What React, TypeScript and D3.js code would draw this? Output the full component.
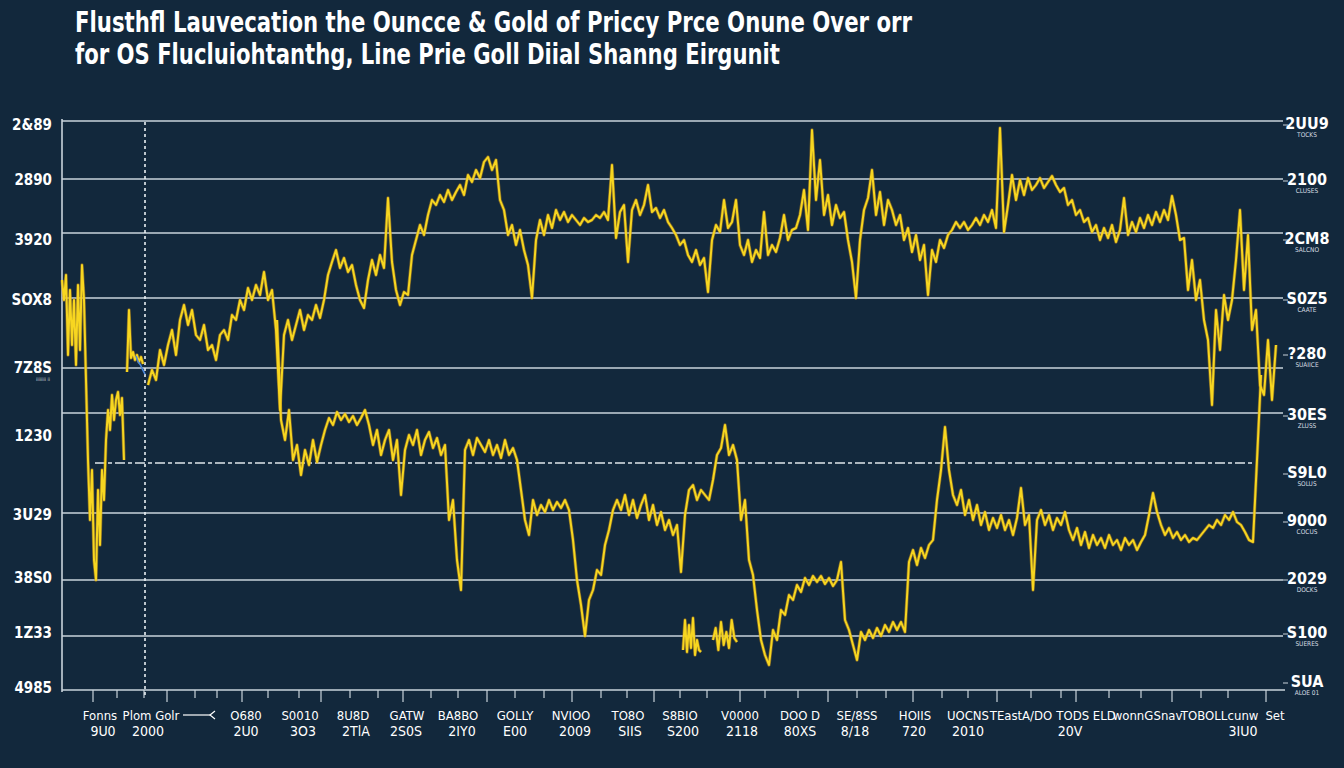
import React from 'react';
import * as d3 from 'd3';

const W = 1344;
const H = 768;

const titleLines = [
  'Flusthfl Lauvecation the  Ouncce & Gold of Priccy Prce Onune Over orr',
  'for OS Flucluiohtanthg, Line Prie Goll Diial Shanng Eirgunit',
];

const leftTickLabels = ['2&89', '2890', '3920', 'SOX8', '7Z8S', '1230', '3U29', '38S0', '1Z33', '4985'];
const leftTickValues = [2130, 2020, 1900, 1780, 1644, 1508, 1350, 1224, 1114, 1004];

const rightTickLabels = ['2UU9', '2100', '2CM8', 'S0Z5', '?280', '30ES', 'S9L0', '9000', '2029', 'S100', 'SUA'];
const rightTickSubLabels = ['TOCKS', 'CLUSES', 'SALCNO', 'CAATE', 'SUAIICE', 'ZLUSS', 'SOLUS', 'COCUS', 'DOCKS', 'SUERES', 'ALOE 01'];
const rightTickValues = [2130, 2018, 1900, 1780, 1670, 1548, 1432, 1336, 1220, 1112, 1014];

const gridValues = [2138, 2022, 1914, 1784, 1644, 1554, 1354, 1220, 1108];
const dashedValue = 1454;
const markerDay = 83;

const bottomTickDays = [31, 55, 82, 105, 133, 155, 180, 206, 237, 259, 288, 316, 341, 369, 396, 425, 453, 482, 510, 539, 565, 592, 618, 645, 678, 703, 736, 766, 795, 824, 851, 880, 906, 935, 969, 999, 1014, 1047, 1079, 1110, 1139, 1166, 1204];

const bottomRow1Labels = ['Fonns', 'Plom Golr', 'O680', 'S0010', '8U8D', 'GATW', 'BA8BO', 'GOLLY', 'NVIOO', 'TO8O', 'S8BIO', 'V0000', 'DOO D', 'SE/8SS', 'HOIIS', 'UOCNS', 'TEastA/DO', 'TODS ELD', 'wonnG', 'Snav', 'TOBOLL', 'cunw', 'Set'];
const bottomRow1Days = [38, 89, 184, 238, 291, 345, 396, 453, 509, 566, 618, 678, 738, 795, 853, 906, 959, 1024, 1071, 1106, 1142, 1181, 1213];
const bottomRow2Labels = ['9U0', '2000', '2U0', '3O3', '2TlA', '2S0S', '2IY0', 'E00', '2009', 'SIIS', 'S200', '2118', '80XS', '8/18', '720', '2010', '20V', '3IU0'];
const bottomRow2Days = [41, 86, 184, 241, 294, 344, 400, 453, 513, 568, 621, 680, 738, 793, 852, 906, 1008, 1181];

// price series (segments of evenly spaced trading days)
const upperLeftPrices = [1820, 1780, 1830, 1670, 1800, 1690, 1780, 1650, 1810, 1680, 1850, 1780, 1620, 1460, 1340, 1440, 1260, 1220, 1400, 1290, 1440, 1380, 1500, 1560, 1520, 1590, 1540, 1580, 1596, 1550, 1584, 1460];
const upperLeftDays = [0, 62];

const shortFlatPrices = [1636, 1760, 1664, 1676, 1660, 1670, 1656, 1666, 1652];
const shortFlatDays = [65, 81];

const blueTickPrices = [1668, 1656, 1650, 1640, 1632];
const blueTickDays = [74, 83];

const upperMainPrices = [
  1610, 1640, 1620, 1680, 1650, 1690, 1720, 1670, 1740, 1770, 1730, 1760, 1710, 1700, 1730, 1680, 1690, 1660, 1710, 1720,
  1700, 1750, 1740, 1780, 1760, 1804, 1780, 1810, 1790, 1836, 1780, 1800, 1720, 1560, 1710, 1740, 1700, 1730, 1760, 1720,
  1750, 1740, 1770, 1744, 1780, 1830, 1856, 1880, 1844, 1864, 1836, 1850, 1810, 1780, 1764, 1820, 1860, 1830, 1870, 1844,
  1984, 1856, 1800, 1770, 1796, 1790, 1870, 1900, 1930, 1910, 1950, 1980, 1970, 1990, 1976, 2000, 1980, 1996, 2010, 1990,
  2030, 2016, 2040, 2024, 2056, 2066, 2040, 2060, 1980, 1960, 1910, 1930, 1890, 1920, 1880, 1850, 1784, 1900, 1940, 1910,
  1950, 1924, 1960, 1940, 1956, 1936, 1950, 1940, 1930, 1944, 1936, 1940, 1950, 1944, 1956, 1940, 2050, 1904, 1956, 1970,
  1856, 1960, 1980, 1950, 1970, 2010, 1956, 1964, 1944, 1960, 1936, 1924, 1910, 1890, 1900, 1870, 1856, 1880, 1850, 1864,
  1796, 1900, 1930, 1916, 1980, 1924, 1936, 1980, 1890, 1870, 1900, 1856, 1880, 1864, 1956, 1870, 1890, 1876, 1904, 1950,
  1900, 1920, 1924, 1950, 2000, 1920, 2120, 1980, 2060, 1950, 1990, 1930, 1970, 1944, 1956, 1900, 1856, 1784, 1900, 1960,
  1984, 2040, 1950, 1996, 1930, 1980, 1960, 1930, 1950, 1900, 1924, 1876, 1910, 1860, 1890, 1790, 1880, 1856, 1900, 1884,
  1910, 1920, 1936, 1924, 1936, 1920, 1930, 1944, 1930, 1950, 1936, 1960, 1924, 2124, 1916, 1970, 2030, 1980, 2020, 1990,
  2024, 2000, 2010, 2024, 2004, 2016, 2028, 2010, 1996, 2004, 1970, 1980, 1950, 1960, 1936, 1944, 1916, 1930, 1900, 1924,
  1904, 1930, 1896, 1920, 1984, 1910, 1936, 1916, 1944, 1924, 1950, 1930, 1956, 1936, 1960, 1940, 1988, 1950, 1900, 1904,
  1800, 1860, 1780, 1820, 1740, 1700, 1570, 1760, 1680, 1790, 1740, 1780, 1860, 1960, 1800, 1910, 1720, 1760, 1610, 1590,
  1700, 1580, 1690,
];
const upperMainDays = [86, 1214];

const lowerPrices = [
  1740, 1540, 1500, 1560, 1460, 1490, 1430, 1480, 1450, 1500, 1456, 1490, 1520, 1544, 1530, 1556, 1540, 1552, 1536, 1548,
  1530, 1544, 1560, 1530, 1490, 1520, 1470, 1500, 1520, 1460, 1500, 1390, 1480, 1510, 1490, 1520, 1470, 1500, 1516, 1484,
  1504, 1470, 1490, 1340, 1380, 1260, 1200, 1480, 1500, 1470, 1504, 1490, 1476, 1500, 1470, 1490, 1464, 1500, 1470, 1484,
  1460, 1400, 1340, 1310, 1380, 1350, 1370, 1356, 1380, 1360, 1376, 1364, 1380, 1360, 1300, 1220, 1170, 1108, 1180, 1200,
  1240, 1230, 1290, 1320, 1360, 1380, 1360, 1390, 1350, 1380, 1344, 1370, 1390, 1340, 1370, 1330, 1356, 1320, 1340, 1310,
  1330, 1236, 1350, 1400, 1410, 1380, 1400, 1390, 1380, 1420, 1470, 1484, 1530, 1470, 1490, 1460, 1340, 1380, 1260, 1230,
  1160, 1100, 1070, 1050, 1120, 1100, 1160, 1150, 1190, 1180, 1210, 1196, 1224, 1210, 1228, 1216, 1228, 1212, 1224, 1208,
  1220, 1256, 1140, 1120, 1090, 1060, 1116, 1100, 1120, 1104, 1124, 1108, 1130, 1116, 1136, 1120, 1136, 1116, 1256, 1280,
  1250, 1284, 1264, 1290, 1300, 1380, 1440, 1526, 1440, 1390, 1370, 1400, 1350, 1380, 1340, 1370, 1330, 1356, 1320, 1344,
  1324, 1350, 1320, 1340, 1310, 1344, 1404, 1330, 1350, 1200, 1340, 1360, 1330, 1350, 1320, 1344, 1330, 1356, 1320, 1300,
  1324, 1290, 1316, 1284, 1310, 1290, 1304, 1284, 1310, 1290, 1300, 1280, 1304, 1290, 1300, 1280, 1296, 1310, 1350, 1394,
  1356, 1330, 1310, 1324, 1304, 1316, 1300, 1310, 1296, 1304, 1300, 1310, 1320, 1330, 1324, 1340, 1330, 1350, 1340, 1356,
  1336, 1330, 1316, 1300, 1296, 1460, 1630,
];
const lowerDays = [215, 1199];

const fragmentAPrices = [1080, 1140, 1076, 1130, 1084, 1144, 1070, 1100, 1080, 1076];
const fragmentADays = [621, 639];
const fragmentBPrices = [1100, 1124, 1080, 1136, 1090, 1116, 1084, 1140, 1104, 1096];
const fragmentBDays = [651, 675];

const BG = '#12283c';
const GRID = '#c9d3db';
const GOLD = '#f7d620';
const GOLD_DARK = '#c8901a';
const FONT = "'DejaVu Sans Condensed', 'Liberation Sans Narrow', 'DejaVu Sans', sans-serif";

export default function App() {
  const x = d3.scaleLinear().domain([0, 1223]).range([62, 1285]);
  const y = d3.scaleLinear().domain([1000, 2138]).range([690, 121]);

  const segPath = (values: number[], days: number[]) => {
    const step = values.length > 1 ? (days[1] - days[0]) / (values.length - 1) : 0;
    const line = d3
      .line<number>()
      .x((_, i) => x(days[0] + i * step))
      .y((v) => y(v));
    return line(values) || '';
  };

  const goldSegments = [
    [upperLeftPrices, upperLeftDays],
    [shortFlatPrices, shortFlatDays],
    [upperMainPrices, upperMainDays],
    [lowerPrices, lowerDays],
    [fragmentAPrices, fragmentADays],
    [fragmentBPrices, fragmentBDays],
  ] as [number[], number[]][];

  return (
    <svg
      width={W}
      height={H}
      viewBox={`0 0 ${W} ${H}`}
      style={{ position: 'absolute', left: 0, top: 0, display: 'block' }}
    >
      <rect x={0} y={0} width={W} height={H} fill={BG} />

      {/* title */}
      <text x={75} y={32} fill="#ffffff" fontFamily={FONT} fontWeight="bold" fontSize={28} textLength={837} lengthAdjust="spacingAndGlyphs">
        {titleLines[0]}
      </text>
      <text x={75} y={64} fill="#ffffff" fontFamily={FONT} fontWeight="bold" fontSize={28} textLength={705} lengthAdjust="spacingAndGlyphs">
        {titleLines[1]}
      </text>

      {/* grid lines */}
      {gridValues.map((v, i) => (
        <line key={'g' + i} x1={x(0)} x2={x(1221)} y1={y(v)} y2={y(v)} stroke={GRID} strokeWidth={1.5} />
      ))}
      <line x1={x(33)} x2={x(1190)} y1={y(dashedValue)} y2={y(dashedValue)} stroke="#dfe6ea" strokeWidth={1.4} strokeDasharray="10 3 4 3" />

      {/* left axis */}
      <line x1={x(0)} x2={x(0)} y1={119} y2={692} stroke={GRID} strokeWidth={1.6} />
      {/* bottom axis */}
      <line x1={x(0)} x2={x(1223)} y1={y(1000)} y2={y(1000)} stroke={GRID} strokeWidth={1.6} />
      {bottomTickDays.map((d, i) => (
        <line key={'bt' + i} x1={x(d)} x2={x(d)} y1={y(1000)} y2={y(1000) + (i % 3 === 0 ? 12 : 8)} stroke={GRID} strokeWidth={1.2} />
      ))}

      {/* vertical dashed marker */}
      <line x1={x(markerDay)} x2={x(markerDay)} y1={122} y2={696} stroke="#e8eef2" strokeWidth={1.6} strokeDasharray="3 3" />

      {/* gold series */}
      {goldSegments.map(([vals, days], i) => (
        <path key={'gd' + i} d={segPath(vals, days)} fill="none" stroke={GOLD_DARK} strokeWidth={3.4} strokeOpacity={0.55} strokeLinejoin="round" />
      ))}
      {goldSegments.map(([vals, days], i) => (
        <path key={'gl' + i} d={segPath(vals, days)} fill="none" stroke={GOLD} strokeWidth={2} strokeLinejoin="round" />
      ))}
      <path d={segPath(blueTickPrices, blueTickDays)} fill="none" stroke="#4a86d8" strokeWidth={1.6} />

      {/* left labels */}
      {leftTickLabels.map((t, i) => (
        <text key={'l' + i} x={52} y={y(leftTickValues[i]) + 5} textAnchor="end" fill="#ffffff" fontFamily={FONT} fontWeight="bold" fontSize={15}>
          {t}
        </text>
      ))}
      <text x={50} y={y(leftTickValues[4]) + 13} textAnchor="end" fill="#cfd8de" fontFamily={FONT} fontSize={5}>
        iiiiiiii ii
      </text>

      {/* right labels */}
      {rightTickLabels.map((t, i) => (
        <g key={'r' + i}>
          <line x1={x(1221)} x2={x(1226)} y1={y(rightTickValues[i])} y2={y(rightTickValues[i])} stroke={GRID} strokeWidth={1} />
          <text x={1307} y={y(rightTickValues[i]) + 4} textAnchor="middle" fill="#ffffff" fontFamily={FONT} fontWeight="bold" fontSize={16}>
            {t}
          </text>
          <text x={1307} y={y(rightTickValues[i]) + 12} textAnchor="middle" fill="#d6dde2" fontFamily={FONT} fontSize={6.5}>
            {rightTickSubLabels[i]}
          </text>
        </g>
      ))}

      {/* bottom labels */}
      {bottomRow1Labels.map((t, i) => (
        <text key={'b1' + i} x={x(bottomRow1Days[i])} y={720} textAnchor="middle" fill="#ffffff" fontFamily={FONT} fontSize={13}>
          {t}
        </text>
      ))}
      <line x1={183} x2={211} y1={715} y2={715} stroke="#ffffff" strokeWidth={1.2} />
      <path d="M 215 711 L 210 715 L 215 719" fill="none" stroke="#ffffff" strokeWidth={1.2} />
      {bottomRow2Labels.map((t, i) => (
        <text key={'b2' + i} x={x(bottomRow2Days[i])} y={736} textAnchor="middle" fill="#ffffff" fontFamily={FONT} fontSize={14}>
          {t}
        </text>
      ))}
    </svg>
  );
}
